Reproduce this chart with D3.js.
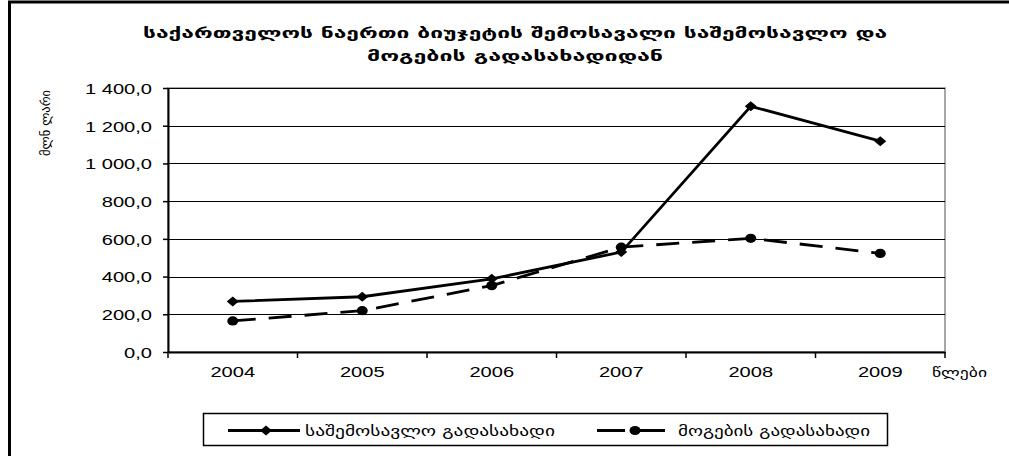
<!DOCTYPE html>
<html>
<head>
<meta charset="utf-8">
<script src="https://cdn.jsdelivr.net/npm/d3@7"></script>
<style>
  body { margin: 0; background: #fff; }
  svg { display: block; }
  .geo { font-family: "DejaVu Sans", sans-serif; fill: #000; }
  .num { font-family: "Liberation Sans", Arial, sans-serif; font-size: 15px; fill: #000; }
</style>
</head>
<body>
<script>
// data
const years = ['2004', '2005', '2006', '2007', '2008', '2009'];
const incomeTax = [268, 293, 388, 530, 1303, 1118];   // საშემოსავლო გადასახადი
const profitTax = [165, 219, 352, 556, 603, 523];     // მოგების გადასახადი
const yTicks = [0, 200, 400, 600, 800, 1000, 1200, 1400];
const yTickLabels = ['0,0', '200,0', '400,0', '600,0', '800,0', '1 000,0', '1 200,0', '1 400,0'];
const seriesNames = ['საშემოსავლო გადასახადი', 'მოგების გადასახადი'];
const titleLines = ['საქართველოს  ნაერთი  ბიუჯეტის  შემოსავალი  საშემოსავლო  და', 'მოგების  გადასახადიდან'];

const W = 1009, H = 456;
const plot = { left: 168, right: 945, top: 88, bottom: 352 };
const stretch = 1.34; // the picture is stretched sideways

const svg = d3.select('body').append('svg')
    .attr('width', W)
    .attr('height', H);

// outer chart frame (runs off the right and bottom edges)
svg.append('rect')
    .attr('x', 9.5).attr('y', 2)
    .attr('width', 1100).attr('height', 600)
    .attr('fill', 'none')
    .attr('stroke', '#000')
    .attr('stroke-width', 3);

// title
svg.selectAll('.title')
    .data(titleLines)
    .enter()
  .append('text')
    .attr('class', 'geo title')
    .attr('x', 515)
    .attr('y', (d, i) => 38 + i * 23)
    .attr('text-anchor', 'middle')
    .style('font-size', '15px')
    .style('font-weight', 'bold')
    .attr('textLength', (d, i) => i === 0 ? 744 : 296)
    .attr('lengthAdjust', 'spacingAndGlyphs')
    .text(d => d);

// scales
const x = d3.scaleBand()
    .domain(years)
    .range([plot.left, plot.right]);
const y = d3.scaleLinear()
    .domain([0, 1400])
    .range([plot.bottom, plot.top]);

// plot frame (grey top/right)
svg.append('rect')
    .attr('x', plot.left).attr('y', plot.top)
    .attr('width', plot.right - plot.left)
    .attr('height', plot.bottom - plot.top)
    .attr('fill', 'none')
    .attr('stroke', '#8a8a8a')
    .attr('stroke-width', 1.5);

// gridlines
svg.append('g')
  .selectAll('line')
    .data(yTicks.filter(d => d > 0))
    .enter()
  .append('line')
    .attr('x1', plot.left).attr('x2', plot.right)
    .attr('y1', d => Math.round(y(d)) + 0.5)
    .attr('y2', d => Math.round(y(d)) + 0.5)
    .attr('stroke', '#000')
    .attr('stroke-width', 1.2);

// y axis
const yAxis = d3.axisLeft(y)
    .tickValues(yTicks)
    .tickSize(5)
    .tickSizeOuter(0)
    .tickFormat((d, i) => yTickLabels[i]);
const yG = svg.append('g')
    .attr('transform', `translate(${plot.left},0)`)
    .call(yAxis);
yG.select('.domain').attr('stroke', '#000').attr('stroke-width', 2);
yG.selectAll('.tick line').attr('stroke', '#000').attr('stroke-width', 1.5);
yG.selectAll('.tick text')
    .attr('class', 'num')
    .attr('font-size', null).attr('font-family', null)
    .attr('x', -16 / stretch)
    .attr('dy', '0.36em')
    .attr('transform', `scale(${stretch},1)`);

// x axis: labels at band centres, ticks at band edges
const xAxis = d3.axisBottom(x)
    .tickSize(0)
    .tickSizeOuter(0);
const xG = svg.append('g')
    .attr('transform', `translate(0,${plot.bottom})`)
    .call(xAxis);
xG.select('.domain').attr('stroke', '#000').attr('stroke-width', 2);
xG.selectAll('.tick text')
    .attr('class', 'num')
    .attr('font-size', null).attr('font-family', null)
    .attr('y', 25)
    .attr('dy', 0)
    .attr('transform', `scale(${stretch},1)`);
xG.selectAll('.edge')
    .data(years.map(d => x(d)).concat([plot.right]))
    .enter()
  .append('line')
    .attr('class', 'edge')
    .attr('x1', d => d).attr('x2', d => d)
    .attr('y1', 0).attr('y2', 6)
    .attr('stroke', '#000')
    .attr('stroke-width', 1.5);

// axis titles
svg.append('text')
    .attr('class', 'geo')
    .attr('transform', 'translate(50,123) rotate(-90)')
    .attr('text-anchor', 'middle')
    .style('font-size', '12px')
    .attr('textLength', 66)
    .attr('lengthAdjust', 'spacingAndGlyphs')
    .text('მლნ ლარი');
svg.append('text')
    .attr('class', 'geo')
    .attr('x', 932)
    .attr('y', 377)
    .style('font-size', '13px')
    .attr('textLength', 55)
    .attr('lengthAdjust', 'spacingAndGlyphs')
    .text('წლები');

// lines
const cx = d => x(d) + x.bandwidth() / 2;
const line = d3.line()
    .x((d, i) => cx(years[i]))
    .y(d => y(d));
const dash = '23,13';

svg.append('path')
    .datum(profitTax)
    .attr('d', line)
    .attr('fill', 'none')
    .attr('stroke', '#000')
    .attr('stroke-width', 2.8)
    .attr('stroke-dasharray', dash);
svg.append('path')
    .datum(incomeTax)
    .attr('d', line)
    .attr('fill', 'none')
    .attr('stroke', '#000')
    .attr('stroke-width', 2.8);

// markers
const diamond = 'M-6,0L0,-5L6,0L0,5Z';
svg.append('g')
  .selectAll('path')
    .data(incomeTax)
    .enter()
  .append('path')
    .attr('d', diamond)
    .attr('transform', (d, i) => `translate(${cx(years[i])},${y(d)})`)
    .attr('fill', '#000');
svg.append('g')
  .selectAll('ellipse')
    .data(profitTax)
    .enter()
  .append('ellipse')
    .attr('cx', (d, i) => cx(years[i]))
    .attr('cy', d => y(d))
    .attr('rx', 5.5)
    .attr('ry', 4.6)
    .attr('fill', '#000');

// legend
const legend = svg.append('g');
legend.append('rect')
    .attr('x', 203.5).attr('y', 413.5)
    .attr('width', 684).attr('height', 32)
    .attr('fill', '#fff')
    .attr('stroke', '#000')
    .attr('stroke-width', 1.5);
const legendItems = [
  { x1: 228, x2: 300, mx: 266, tx: 305, tw: 250, dashed: false },
  { x1: 597, x2: 666, mx: 635, tx: 678, tw: 192, dashed: true }
];
const ly = 430.5;
legendItems.forEach((it, i) => {
  legend.append('line')
      .attr('x1', it.x1).attr('x2', it.x2)
      .attr('y1', ly).attr('y2', ly)
      .attr('stroke', '#000')
      .attr('stroke-width', 2.8)
      .attr('stroke-dasharray', it.dashed ? '28,12' : null);
  if (i === 0) {
    legend.append('path')
        .attr('d', diamond)
        .attr('transform', `translate(${it.mx},${ly})`)
        .attr('fill', '#000');
  } else {
    legend.append('ellipse')
        .attr('cx', it.mx).attr('cy', ly)
        .attr('rx', 5.5).attr('ry', 4.6)
        .attr('fill', '#000');
  }
  legend.append('text')
      .attr('class', 'geo')
      .attr('x', it.tx)
      .attr('y', ly + 5)
      .style('font-size', '14px')
      .attr('textLength', it.tw)
      .attr('lengthAdjust', 'spacingAndGlyphs')
      .text(seriesNames[i]);
});
</script>
</body>
</html>
